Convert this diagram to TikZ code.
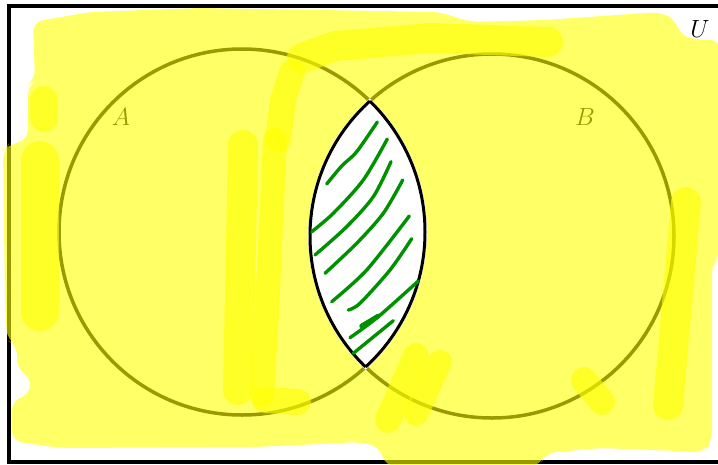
\documentclass[tikz,border=0pt]{standalone}
\usepackage{tikz}
\definecolor{hl}{RGB}{255,255,0}
\definecolor{hatch}{RGB}{0,145,0}
\begin{document}
\begin{tikzpicture}[x=1pt,y=-1pt,
  ring/.style={draw=black,line width=3.5pt},
  hlbase/.style={fill=hl,fill opacity=0.6},
  hlstroke/.style={draw=hl,draw opacity=0.6,line cap=round,line join=round,line width=#1},
  hlstroke/.default=30pt,
  hatchline/.style={draw=hatch,line width=3.4pt,line cap=round,line join=round},
  setlabel/.style={font=\fontsize{32}{38}\selectfont,inner sep=0pt}
]
\useasboundingbox (0,0) rectangle (718,464);
\clip (0,0) rectangle (718,464);
\fill[white] (0,0) rectangle (718,464);
% frame
\draw[line width=4pt] (9,5.5) rectangle (730,461.5);
% circles
\coordinate (cA) at (242,232);
\coordinate (cB) at (492,236);
\draw[ring] (cA) circle[radius=183pt];
\draw[ring] (cB) circle[radius=182pt];
\node[setlabel] (labA) at (121,117) {$A$};
\node[setlabel] (labB) at (585,117) {$B$};
\node[setlabel] (labU) at (700,29) {$U$};
% highlighter base
\fill[hlbase,rounded corners=10pt] (33,22) -- (90,12) -- (200,8) -- (440,12) -- (470,22) -- (545,20) -- (660,12) -- (676,20) -- (680,36) -- (700,40) -- (720,40) -- (720,258) -- (712,262) -- (712,440) -- (705,452) -- (600,448) -- (545,453) -- (540,466) -- (385,466) -- (380,447) -- (360,442) -- (255,447) -- (60,448) -- (12,441) -- (12,400) -- (30,395) -- (30,375) -- (17,370) -- (17,345) -- (7,340) -- (5,300) -- (3,150) -- (8,145) -- (28,140) -- (28,85) -- (35,80) -- cycle;
% highlighter strokes (overlaps)
\draw[hlstroke=38pt] (40,160) -- (40,312);
\draw[hlstroke=28pt] (44,100) -- (44,118);
\draw[hlstroke=30pt] (302,58) -- (335,46) -- (430,38) -- (548,42);
\draw[hlstroke=26pt] (292,72) -- (283,100) -- (278,140);
\draw[hlstroke=30pt] (243,145) -- (238,390);
\draw[hlstroke=24pt] (275,140) -- (266,330) -- (262,395);
\draw[hlstroke=26pt] (265,400) -- (298,402);
\draw[hlstroke=30pt] (686,202) -- (668,405);
\draw[hlstroke=26pt] (388,420) -- (416,356);
\draw[hlstroke=24pt] (416,414) -- (440,362);
\draw[hlstroke=26pt] (584,380) -- (602,402);
% lens
\begin{scope}
  \clip (cA) circle[radius=185pt];
  \fill[white] (cB) circle[radius=184pt];
\end{scope}
\begin{scope}
  \clip (cA) circle[radius=183pt];
  \draw[line width=3pt] (cB) circle[radius=182pt];
\end{scope}
\begin{scope}
  \clip (cB) circle[radius=182pt];
  \draw[line width=3pt] (cA) circle[radius=183pt];
\end{scope}
% hatching
\draw[hatchline] plot[smooth] coordinates {(326.7,184) (341.7,166) (356.7,151.7) (377.3,122)};
\draw[hatchline] plot[smooth] coordinates {(311.7,231.7) (333.3,213.3) (363.3,180) (387.3,139)};
\draw[hatchline] plot[smooth] coordinates {(315,255) (346.7,226.7) (373.3,196.7) (391,161.7)};
\draw[hatchline] plot[smooth] coordinates {(325,273.3) (356.7,243.3) (383.3,213.3) (402.7,180)};
\draw[hatchline] plot[smooth] coordinates {(331.7,301.7) (366.7,270) (409.3,216)};
\draw[hatchline] plot[smooth] coordinates {(348.3,310) (360,303.3) (390,270) (411.7,238.7)};
\draw[hatchline] plot[smooth] coordinates {(350,337.7) (378.3,316.7) (418.3,281)};
\draw[hatchline,line width=4.8pt] (361.7,326) -- (378.3,316);
\draw[hatchline] (353.3,353.3) -- (393.3,320.7);
\end{tikzpicture}
\end{document}
